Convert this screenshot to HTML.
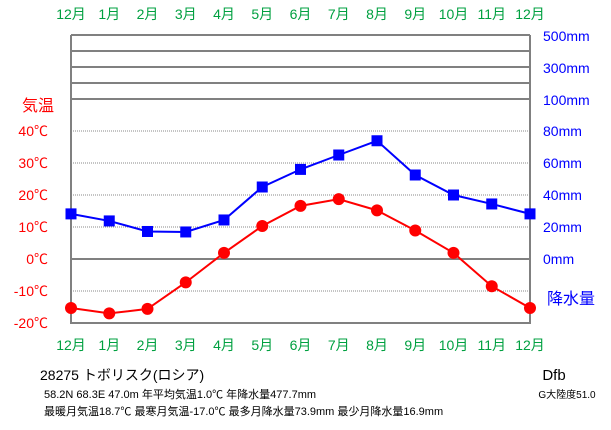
<!DOCTYPE html>
<html><head><meta charset="utf-8"><style>
body{margin:0;background:#fff;width:611px;height:425px;overflow:hidden}
svg text{font-family:"Liberation Sans","Noto Sans CJK JP",sans-serif}
</style></head><body>
<svg width="611" height="425" viewBox="0 0 611 425" xmlns="http://www.w3.org/2000/svg">
<g id="grid"></g><g id="labels"></g><g id="series"></g>
<text x="22" y="111" fill="#f00" font-size="16">気温</text>
<text x="547" y="304" fill="#00f" font-size="16">降水量</text>
<text x="40" y="380" font-size="14">28275 トボリスク(ロシア)</text>
<text x="44" y="398" font-size="11">58.2N  68.3E  47.0m  年平均気温1.0℃  年降水量477.7mm</text>
<text x="44" y="415" font-size="11">最暖月気温18.7℃ 最寒月気温-17.0℃ 最多月降水量73.9mm 最少月降水量16.9mm</text>
<text x="554" y="380" font-size="15" text-anchor="middle">Dfb</text>
<text x="567" y="398" font-size="10" text-anchor="middle">G大陸度51.0</text>
</svg>
<script>
const months=["12月","1月","2月","3月","4月","5月","6月","7月","8月","9月","10月","11月","12月"];
const temps=[-15.3,-17.0,-15.6,-7.3,1.9,10.3,16.6,18.7,15.2,8.9,1.9,-8.5,-15.3];
const precip=[28.2,23.8,17.2,16.9,24.4,45.0,56.0,65.0,73.9,52.5,40.0,34.4,28.2];
const tempTicks=[40,30,20,10,0,-10,-20];
const precipTicks=[0,20,40,60,80];
const precipLogTicks=["100mm","300mm","500mm"];
const L=71,R=530,NS="http://www.w3.org/2000/svg";
const xs=i=>L+i*(R-L)/(months.length-1);
const yT=t=>259-t*3.2;
const yP=p=>259-p*1.6;
function mk(tag,attrs,parent){const e=document.createElementNS(NS,tag);for(const k in attrs)e.setAttribute(k,attrs[k]);document.getElementById(parent).appendChild(e);return e;}
tempTicks.forEach(t=>{if(t===-20)return;const l=mk('line',{x1:L,x2:R,y1:yT(t),y2:yT(t),stroke:t===0?'#808080':'#888','stroke-width':t===0?2:1,'stroke-dasharray':t===0?'':'1,1'},'grid');

});
[35,51,67,83,99].forEach(y=>{const l=mk('line',{x1:L,x2:R,y1:y,y2:y,stroke:'#808080','stroke-width':2},'grid');

});
const fr=mk('polyline',{points:`${L},35 ${L},${yT(-20)} ${R},${yT(-20)} ${R},35`,fill:'none',stroke:'#808080','stroke-width':2},'grid');


months.forEach((m,i)=>{[19,350].forEach(y=>{const t=mk('text',{x:xs(i),y:y,fill:'#00a040','font-size':14,'text-anchor':'middle'},'labels');t.textContent=m;

});});
tempTicks.forEach(t=>{const e=mk('text',{x:48,y:yT(t)+5,fill:'#f00','font-size':14,'text-anchor':'end'},'labels');e.textContent=t+'℃';

});
precipTicks.forEach(p=>{const e=mk('text',{x:543,y:yP(p)+5,fill:'#00f','font-size':14},'labels');e.textContent=p+'mm';

});
precipLogTicks.forEach((s,i)=>{const e=mk('text',{x:543,y:[105,73,41][i],fill:'#00f','font-size':14},'labels');e.textContent=s;

});
const pl=mk('polyline',{points:precip.map((p,i)=>xs(i)+','+yP(p)).join(' '),fill:'none',stroke:'#00f','stroke-width':2},'series');


const tl=mk('polyline',{points:temps.map((t,i)=>xs(i)+','+yT(t)).join(' '),fill:'none',stroke:'#f00','stroke-width':2},'series');


precip.forEach((p,i)=>{const r=mk('rect',{x:xs(i)-5.5,y:yP(p)-5.5,width:11,height:11,fill:'#00f'},'series');

});
temps.forEach((t,i)=>{const c=mk('circle',{cx:xs(i),cy:yT(t),r:6,fill:'#f00'},'series');

});
</script>
</body></html>
